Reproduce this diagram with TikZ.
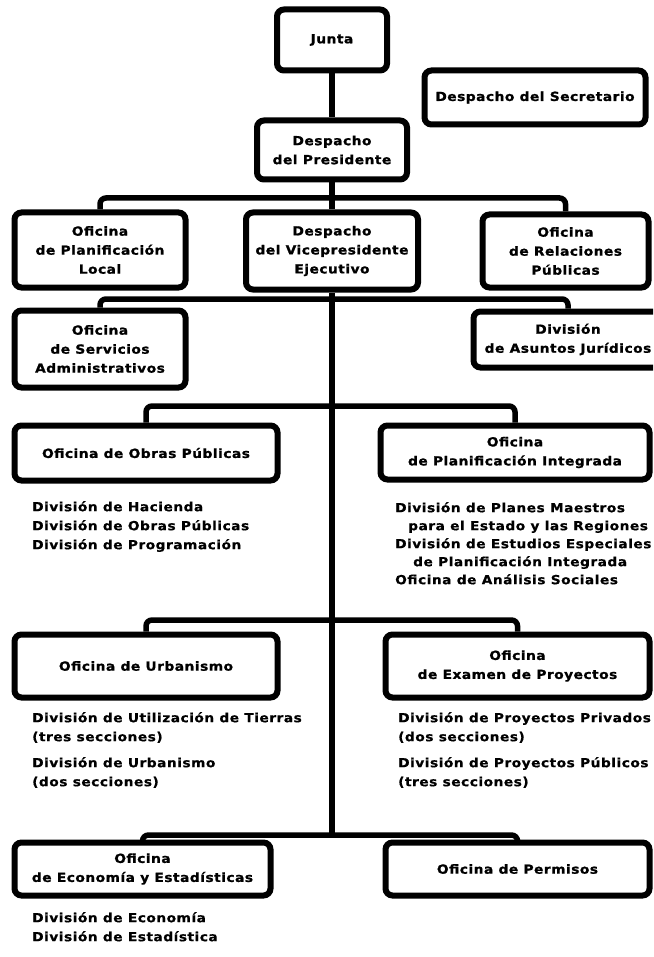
\documentclass[tikz,border=0pt]{standalone}
\usepackage{fontspec}
\newfontfamily\orgfont[FakeStretch=1.1,LetterSpace=4,FakeBold=1.2]{DejaVu Sans}
\newfontfamily\listfont[FakeStretch=1.1,LetterSpace=4,FakeBold=0.6]{DejaVu Sans}
\begin{document}
\begin{tikzpicture}[x=1pt,y=-1pt,
  unit/.style={draw, line width=6pt, rounded corners=7pt, inner sep=0pt,
    align=center, font=\orgfont\bfseries\fontsize{12.5}{19}\selectfont},
  link/.style={line width=5.5pt, rounded corners=6pt},
  sublist/.style={anchor=north west, inner sep=0pt, align=left,
    font=\listfont\bfseries\fontsize{12.5}{19}\selectfont}]
\clip (0,0) rectangle (653,957);

% top of the organisation
\node[unit, minimum width=110pt, minimum height=61pt] (junta) at (332,40) {Junta};
\node[unit, minimum width=221pt, minimum height=54pt] (secr) at (535,97.5) {Despacho del Secretario};
\node[unit, minimum width=150pt, minimum height=59pt] (pres) at (332,150) {Despacho\\del Presidente};

% second level
\node[unit, minimum width=171pt, minimum height=75pt] (plan) at (100,250) {Oficina\\de Planificación\\Local};
\node[unit, minimum width=172pt, minimum height=77pt] (vp) at (332,251) {Despacho\\del Vicepresidente\\Ejecutivo};
\node[unit, minimum width=166pt, minimum height=73pt] (rel) at (565.5,251) {Oficina\\de Relaciones\\Públicas};

% staff units
\node[unit, minimum width=171pt, minimum height=77pt] (serv) at (100,349) {Oficina\\de Servicios\\Administrativos};
\node[unit, minimum width=189pt, minimum height=56pt] (jur) at (568,339.5) {División\\de Asuntos Jurídicos};

% line offices
\node[unit, minimum width=263pt, minimum height=55pt] (obras) at (146,453) {Oficina de Obras Públicas};
\node[unit, minimum width=269pt, minimum height=54pt] (pi) at (515,452.5) {Oficina\\de Planificación Integrada};
\node[unit, minimum width=263pt, minimum height=63pt] (urb) at (146,666) {Oficina de Urbanismo};
\node[unit, minimum width=264pt, minimum height=63pt] (exam) at (517.5,666) {Oficina\\de Examen de Proyectos};
\node[unit, minimum width=256pt, minimum height=53pt] (eco) at (142.5,869) {Oficina\\de Economía y Estadísticas};
\node[unit, minimum width=264pt, minimum height=53pt] (perm) at (517.5,869) {Oficina de Permisos};

% divisions under each office
\node[sublist] (obraslist) at (32,501) {División de Hacienda\\División de Obras Públicas\\División de Programación};
\node[sublist, font=\listfont\bfseries\fontsize{12.5}{18}\selectfont] (pilist) at (395,502)
  {División de Planes Maestros\\\hspace*{13pt}para el Estado y las Regiones\\División de Estudios Especiales\\\hspace*{18pt}de Planificación Integrada\\Oficina de Análisis Sociales};
\node[sublist] (urblist) at (32,712) {División de Utilización de Tierras\\(tres secciones)\\[7pt]División de Urbanismo\\(dos secciones)};
\node[sublist] (examlist) at (398,712) {División de Proyectos Privados\\(dos secciones)\\[7pt]División de Proyectos Públicos\\(tres secciones)};
\node[sublist] (ecolist) at (32,912) {División de Economía\\División de Estadística};

% trunk and branch points
\coordinate (b2) at (332,198);
\coordinate (b3) at (332,299);
\coordinate (b4) at (332,406);
\coordinate (b5) at (332,620);
\coordinate (b6) at (332,835);

\draw[link] (junta.south) -- (pres.north);
\draw[link] (pres.south) -- (vp.north);
\draw[link] (plan.north) |- (b2) -| (rel.north);
\draw[link] (serv.north) |- (b3) -| (jur.north);
\draw[link] (vp.south) -- (b6);
\draw[link] (obras.north) |- (b4) -| (pi.north);
\draw[link] (urb.north) |- (b5) -| (exam.north);
\draw[link] (eco.north) |- (b6) -| (perm.north);
\end{tikzpicture}
\end{document}
